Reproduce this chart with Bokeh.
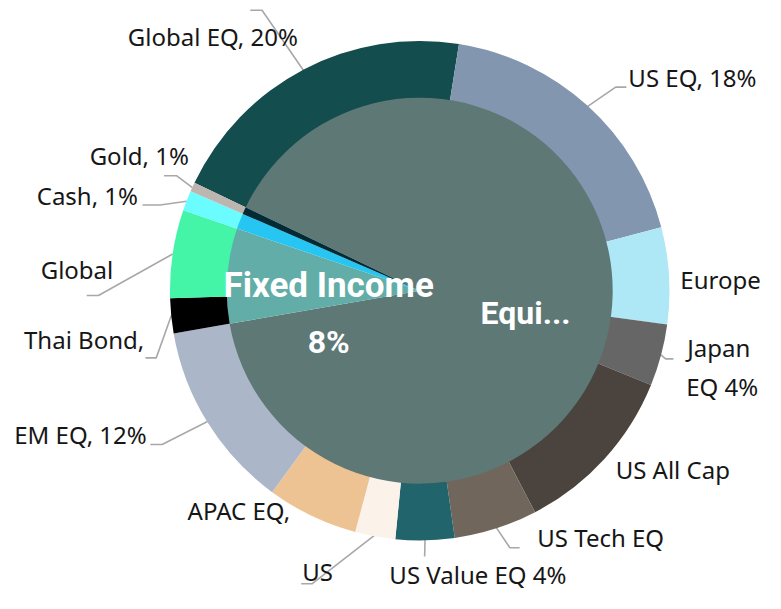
import math
from bokeh.plotting import figure
from bokeh.models import Range1d
from bokeh.embed import file_html
from bokeh.resources import INLINE
from bokeh.core.properties import value

# ---------------- data ----------------
outer_names = ["Global EQ", "US EQ", "Europe EQ", "Japan EQ", "US All Cap EQ",
               "US Tech EQ", "US Value EQ", "US Small Cap EQ", "APAC EQ", "EM EQ",
               "Thai Bond", "Global Bond", "Cash", "Gold"]
outer_values = [20.4, 18.4, 6.25, 4.0, 11.2, 5.4, 3.8, 2.6, 5.9, 12.2, 2.25, 5.7, 1.3, 0.6]
outer_group = ["Equity"] * 10 + ["Fixed Income"] * 2 + ["Cash", "Gold"]
# visible (truncated) label texts as shown on the chart
outer_label_text = ["Global EQ, 20%", "US EQ, 18%", "Europe", "Japan\nEQ 4%", "US All Cap",
                    "US Tech EQ", "US Value EQ 4%", "US", "APAC EQ,", "EM EQ, 12%",
                    "Thai Bond,", "Global", "Cash, 1%", "Gold, 1%"]
inner_names = ["Equity", "Fixed Income", "Cash", "Gold"]
inner_label_text = ["Equi...", "Fixed Income\n8%", None, None]

# ---------------- styles / layout ----------------
outer_colors = ["#144D4E", "#8296B0", "#AEE7F5", "#666666", "#4A433E", "#70665B",
                "#22646B", "#FBF2EA", "#EDC394", "#ABB7C9", "#000000", "#44F5A8",
                "#6AFCFE", "#BDB5B0"]
inner_colors = ["#5E7876", "#62ADA7", "#27C5F1", "#032B36"]

W, H = 781, 609          # reference canvas size (data units)
CX, CY = 428, H - 298
R_OUT, R_IN = 255, 197
START = 295.6            # clockwise-from-top angle where the first slice begins
OUT_TXT_SHIFT = 10.3     # baseline correction for outer labels
IN_TXT_SHIFT = 12.0      # baseline correction for inner labels


def sy(y):
    return H - y


# label anchor (left x, baseline y) in reference px
label_pos = [(130, 47), (641, 89), (694, 297), (701, 367), (628, 492), (548, 562),
             (397, 600), (308, 597), (191, 534), (14, 456), (24, 358), (41, 287),
             (37, 211), (91, 169)]
line2_dy = 40
leader_pts = [[(267, 10), (255, 10)], [(628, 89), (639, 89)], None,
              [(679, 368), (687, 368)], None, [(520, 562), (530, 562)],
              [(433, 571)], [(318, 599), (307, 599)], None,
              [(165, 456), (153, 456)], [(159, 367), (148, 367)],
              [(100, 303), (88, 303)], [(163, 210), (145, 210)],
              [(180, 180), (167, 180)]]
inner_label_pos = [(536, 333), (335, 305)]
inner_line2_dy = 58

# ---------------- geometry from data ----------------
tot = sum(outer_values)
o_start, o_end, o_mid = [], [], []
a = START
for v in outer_values:
    span = v / tot * 360.0
    o_start.append(math.radians(90 - (a + span)))
    o_end.append(math.radians(90 - a))
    o_mid.append(a + span / 2)
    a += span

inner_values = [sum(v for v, g in zip(outer_values, outer_group) if g == n) for n in inner_names]
i_start, i_end = [], []
a = START
for v in inner_values:
    span = v / tot * 360.0
    i_start.append(math.radians(90 - (a + span)))
    i_end.append(math.radians(90 - a))
    a += span

p = figure(width=765, height=593, x_range=Range1d(0, W), y_range=Range1d(0, H),
           output_backend="svg", toolbar_location=None, min_border=0)
p.axis.visible = False
p.grid.visible = False
p.outline_line_color = None
p.background_fill_color = "white"
p.border_fill_color = "white"

# leader lines
xs, ys = [], []
for m, pts in zip(o_mid, leader_pts):
    if pts is None:
        continue
    x0 = CX + R_OUT * math.sin(math.radians(m))
    y0 = CY + R_OUT * math.cos(math.radians(m))
    xs.append([x0] + [q[0] for q in pts])
    ys.append([y0] + [sy(q[1]) for q in pts])
p.multi_line(xs, ys, line_color="#A8A8A8", line_width=1.6)

p.annular_wedge(x=CX, y=CY, inner_radius=R_IN - 1, outer_radius=R_OUT,
                start_angle=o_start, end_angle=o_end, fill_color=outer_colors,
                line_color=None)
p.wedge(x=CX, y=CY, radius=R_IN, start_angle=i_start, end_angle=i_end,
        fill_color=inner_colors, line_color=None)

# outer labels
tx, ty, tt = [], [], []
for t, (lx, ly) in zip(outer_label_text, label_pos):
    for k, line in enumerate(t.split("\n")):
        tx.append(lx - (1 if k else 0))
        ty.append(sy(ly + k * line2_dy) + OUT_TXT_SHIFT)
        tt.append(line)
p.text(x=tx, y=ty, text=tt, text_font=value("Noto Sans"), text_font_size="24px",
       text_baseline="alphabetic", text_align="left", text_color="#161616")

# inner labels
ix, iy, it, isz = [], [], [], []
for t, pos in zip(inner_label_text, inner_label_pos + [None, None]):
    if t is None:
        continue
    for k, line in enumerate(t.split("\n")):
        ix.append(pos[0])
        iy.append(sy(pos[1] + k * inner_line2_dy) + IN_TXT_SHIFT)
        it.append(line)
        isz.append("35px" if line == "Fixed Income" else "32px")
p.text(x=ix, y=iy, text=it, text_font=value("Roboto"), text_font_style="bold",
       text_font_size=isz, text_baseline="alphabetic", text_align="center",
       text_color="white")

open("out.html", "w").write(file_html(p, INLINE))
